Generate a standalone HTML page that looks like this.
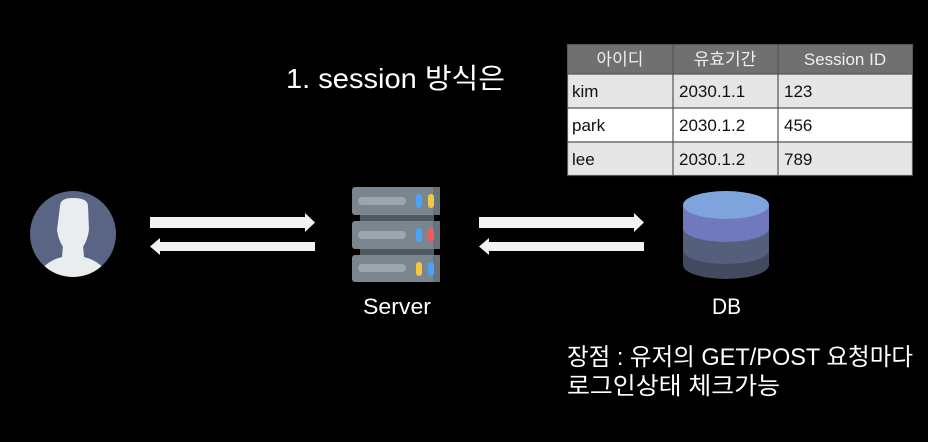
<!DOCTYPE html>
<html><head><meta charset="utf-8"><style>
html,body{margin:0;padding:0;background:#000;width:928px;height:442px;overflow:hidden}
svg{display:block}
text{font-family:"Liberation Sans","Noto Sans CJK KR",sans-serif}
</style></head><body>
<svg width="928" height="442" viewBox="0 0 928 442">
<rect width="928" height="442" fill="#000"/>
<!-- title -->
<text x="286" y="88" font-size="28" fill="#fff" textLength="219" lengthAdjust="spacingAndGlyphs">1. session 방식은</text>
<!-- table -->
<rect x="567" y="44" width="346" height="30" fill="#707070"/>
<rect x="567" y="74" width="346" height="34" fill="#e6e6e6"/>
<rect x="567" y="108" width="346" height="34" fill="#ffffff"/>
<rect x="567" y="142" width="346" height="34" fill="#e6e6e6"/>
<g stroke="#555" stroke-width="1.2" fill="none">
<rect x="567.5" y="44.5" width="345" height="131"/>
<line x1="567" y1="74" x2="913" y2="74"/>
<line x1="567" y1="108" x2="913" y2="108"/>
<line x1="567" y1="142" x2="913" y2="142"/>
<line x1="673" y1="44" x2="673" y2="176"/>
<line x1="778" y1="44" x2="778" y2="176"/>
</g>
<g font-size="17" fill="#f0f0f0" text-anchor="middle">
<text x="620" y="65">아이디</text><text x="725" y="65">유효기간</text><text x="845" y="65">Session ID</text>
</g>
<g font-size="17" fill="#111">
<text x="572" y="97">kim</text><text x="679" y="97">2030.1.1</text><text x="784" y="97">123</text>
<text x="572" y="131">park</text><text x="679" y="131">2030.1.2</text><text x="784" y="131">456</text>
<text x="572" y="165">lee</text><text x="679" y="165">2030.1.2</text><text x="784" y="165">789</text>
</g>
<!-- user -->
<circle cx="73" cy="234" r="43" fill="#5a6585"/>
<clipPath id="c"><circle cx="73" cy="234" r="43"/></clipPath>
<g clip-path="url(#c)" fill="#e9edf0">
<path d="M60 206 Q60 198 73 198 Q88 198 88 206 L89 230 Q86 250 73 254 Q60 250 57 230 Z"/>
<path d="M63 245 L83 245 L84 257 Q104 262 110 280 L36 280 Q42 262 62 257 Z"/>
</g>
<!-- arrows -->
<g fill="#f2f2f2">
<rect x="150" y="217" width="157" height="11"/><polygon points="305,213 315,222.5 305,232"/>
<rect x="158" y="242" width="157" height="9"/><polygon points="160,238 150,246.5 160,255"/>
<rect x="479" y="217" width="157" height="11"/><polygon points="634,213 644,222.5 634,232"/>
<rect x="487" y="242" width="157" height="9"/><polygon points="489,238 479,246.5 489,255"/>
</g>
<!-- server -->
<rect x="360" y="210" width="74" height="60" fill="#4f5b63"/>
<g>
<rect x="352" y="187" width="88" height="28" rx="3" fill="#7a858e"/>
<rect x="352" y="221" width="88" height="28" rx="3" fill="#7a858e"/>
<rect x="352" y="255" width="88" height="27" rx="3" fill="#7a858e"/>
<rect x="433" y="187" width="7" height="28" fill="#67727a"/>
<rect x="433" y="221" width="7" height="28" fill="#67727a"/>
<rect x="433" y="255" width="7" height="27" fill="#67727a"/>
<rect x="358" y="197" width="48" height="8" rx="4" fill="#9aa6b0"/>
<rect x="358" y="231" width="48" height="8" rx="4" fill="#9aa6b0"/>
<rect x="358" y="264" width="48" height="8" rx="4" fill="#9aa6b0"/>
<rect x="416" y="194" width="6" height="14" rx="3" fill="#4aa3f5"/>
<rect x="428" y="194" width="6" height="14" rx="3" fill="#f5c842"/>
<rect x="416" y="228" width="6" height="14" rx="3" fill="#4aa3f5"/>
<rect x="428" y="228" width="6" height="14" rx="3" fill="#f05a5a"/>
<rect x="416" y="262" width="6" height="14" rx="3" fill="#f5c842"/>
<rect x="428" y="262" width="6" height="14" rx="3" fill="#4aa3f5"/>
</g>
<!-- db -->
<path d="M683 250 L683 265 A43 14 0 0 0 769 265 L769 250 Z" fill="#434a60"/>
<path d="M683 228 L683 250 A43 14 0 0 0 769 250 L769 228 Z" fill="#555e7a"/>
<path d="M683 205 L683 228 A43 14 0 0 0 769 228 L769 205 Z" fill="#7079bd"/>
<ellipse cx="726" cy="205" rx="43" ry="14" fill="#7fa4dc"/>
<!-- labels -->
<text x="363" y="314" font-size="22" fill="#fff" textLength="68" lengthAdjust="spacingAndGlyphs">Server</text>
<text x="712" y="314" font-size="22" fill="#fff" textLength="29" lengthAdjust="spacingAndGlyphs">DB</text>
<text x="567" y="365" font-size="24" fill="#fff" textLength="346" lengthAdjust="spacingAndGlyphs">장점 : 유저의 GET/POST 요청마다</text>
<text x="567" y="394" font-size="24" fill="#fff" textLength="213" lengthAdjust="spacingAndGlyphs">로그인상태 체크가능</text>
</svg>
</body></html>
